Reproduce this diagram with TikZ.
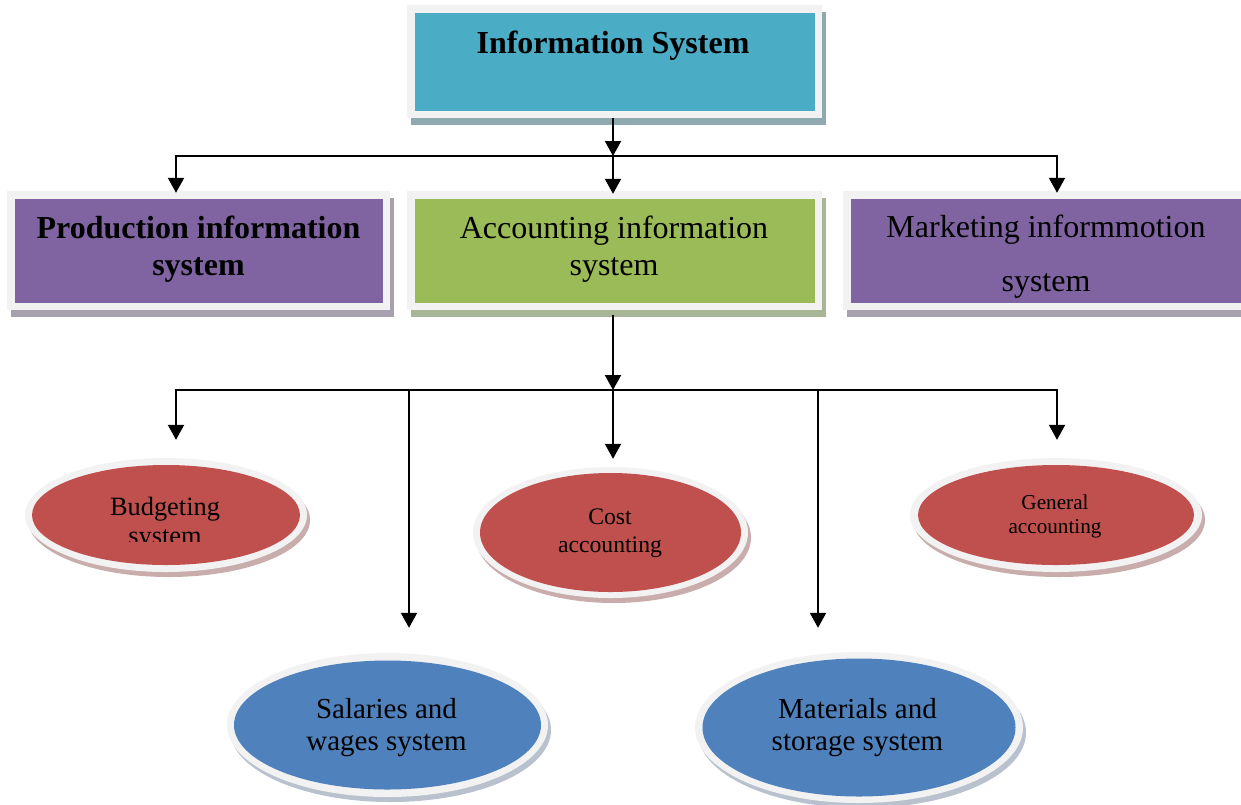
\documentclass[tikz,border=0pt]{standalone}
\usepackage{fontspec}
\setmainfont{Liberation Serif}
\usetikzlibrary{arrows.meta,shapes.geometric,shadows}
\definecolor{frameC}{HTML}{F2F2F2}
\definecolor{tealC}{HTML}{4BACC6}
\definecolor{tealSh}{HTML}{8FA9B0}
\definecolor{purpC}{HTML}{8064A2}
\definecolor{purpSh}{HTML}{A6A1AC}
\definecolor{greenC}{HTML}{9BBB59}
\definecolor{greenSh}{HTML}{A9B597}
\definecolor{redC}{HTML}{C0504D}
\definecolor{redSh}{HTML}{9E6B6A}
\definecolor{blueC}{HTML}{4F81BD}
\definecolor{blueSh}{HTML}{7F8FA5}
\tikzset{
  rbox/.style 2 args={rectangle, inner sep=0pt, fill=frameC,
    general shadow={fill=#2, shadow xshift=4pt, shadow yshift=-7pt},
    path picture={\fill[#1] ([shift={(7.5pt,-7.5pt)}]path picture bounding box.north west)
       rectangle ([shift={(-7.5pt,7.5pt)}]path picture bounding box.south east);}},
  ebox/.style n args={4}{ellipse, inner sep=0pt, fill=frameC,
    general shadow={fill=#2, opacity=.55, shadow xshift=3pt, shadow yshift=-5pt},
    path picture={\fill[#1] (path picture bounding box.center) ellipse [x radius=#3, y radius=#4];}},
  txt/.style={inner sep=0pt, anchor=base, text=black},
  line/.style={line width=2pt, line cap=rect},
  conn/.style={line width=2pt, -{Triangle[width=16pt,length=15pt]}},
}
\newcommand{\twol}[2]{\begin{tabular}[t]{@{}c@{}}#1\\#2\end{tabular}}
\begin{document}
\begin{tikzpicture}[x=1pt,y=-1pt]
\useasboundingbox[fill=white] (0,0) rectangle (1241,804);

% boxes
\node[rbox={tealC}{tealSh}, minimum width=415pt, minimum height=113pt] (top) at (614.5,61.5) {};
\node[rbox={purpC}{purpSh}, minimum width=383pt, minimum height=119pt] (prod) at (198.5,250.5) {};
\node[rbox={greenC}{greenSh}, minimum width=415pt, minimum height=119pt] (acc) at (614.5,250.5) {};
\node[rbox={purpC}{purpSh}, minimum width=406pt, minimum height=119pt] (mkt) at (1046,250.5) {};

% ellipses
\node[ebox={redC}{redSh}{134pt}{50pt}, minimum width=282pt, minimum height=114pt] (bud) at (166,515) {};
\node[ebox={redC}{redSh}{130.5pt}{59.5pt}, minimum width=275pt, minimum height=131pt] (cost) at (610.5,532.5) {};
\node[ebox={redC}{redSh}{138pt}{50pt}, minimum width=292pt, minimum height=114pt] (gen) at (1056,515) {};
\node[ebox={blueC}{blueSh}{153.5pt}{64.5pt}, minimum width=321pt, minimum height=144pt] (sal) at (387.5,725) {};
\node[ebox={blueC}{blueSh}{156.5pt}{69pt}, minimum width=328pt, minimum height=151pt] (mat) at (859,727.5) {};

% texts
\node[txt] (topT) at (613,53) {\fontsize{32}{37}\selectfont\bfseries Information System};
\node[txt] (prodT) at (198.5,238) {\fontsize{32}{37}\selectfont\bfseries\twol{Production information}{system}};
\node[txt] (accT) at (614,238) {\fontsize{32}{37}\selectfont\twol{Accounting information}{system}};
\node[txt] (mktT) at (1046,237) {\fontsize{32}{54}\selectfont\twol{Marketing informmotion}{system}};
\begin{scope}
  \clip (0,0) rectangle (1241,541);
  \node[txt] (budT) at (165,515) {\fontsize{26.4}{29}\selectfont\twol{Budgeting}{system}};
\end{scope}
\node[txt] (costT) at (610,524) {\fontsize{23.7}{28}\selectfont\twol{Cost}{accounting}};
\node[txt] (genT) at (1055,509) {\fontsize{21.2}{24}\selectfont\twol{General}{accounting}};
\node[txt] (salT) at (386.5,718) {\fontsize{29}{32}\selectfont\twol{Salaries and}{wages system}};
\node[txt] (matT) at (857.5,718) {\fontsize{29}{32}\selectfont\twol{Materials and}{storage system}};

% connectors level 1
\coordinate (j1) at (613,156);
\coordinate (hl1) at (176,156);
\coordinate (hr1) at (1057,156);
\draw[line] (hl1) -- (hr1);
\draw[conn] (top.south -| j1) -- (j1);
\draw[conn, shorten >=-2pt] (hl1) -- (hl1 |- prod.north);
\draw[conn, shorten >=-3pt] (j1) -- (j1 |- acc.north);
\draw[conn, shorten >=-2pt] (hr1) -- (hr1 |- mkt.north);

% connectors level 2
\coordinate (j2) at (613,390);
\coordinate (hl2) at (176,390);
\coordinate (hr2) at (1057,390);
\coordinate (c3) at (409,390);
\coordinate (c4) at (818,390);
\draw[line] (hl2) -- (hr2);
\draw[conn] ([yshift=-5pt]acc.south -| j2) -- (j2);
\draw[conn, shorten >=18pt] (hl2) -- (hl2 |- bud.north);
\draw[conn, shorten >=25pt] (c3) -- (c3 |- sal.north);
\draw[conn, shorten >=8pt] (j2) -- (j2 |- cost.north);
\draw[conn, shorten >=24pt] (c4) -- (c4 |- mat.north);
\draw[conn, shorten >=18pt] (hr2) -- (hr2 |- gen.north);
\end{tikzpicture}
\end{document}
